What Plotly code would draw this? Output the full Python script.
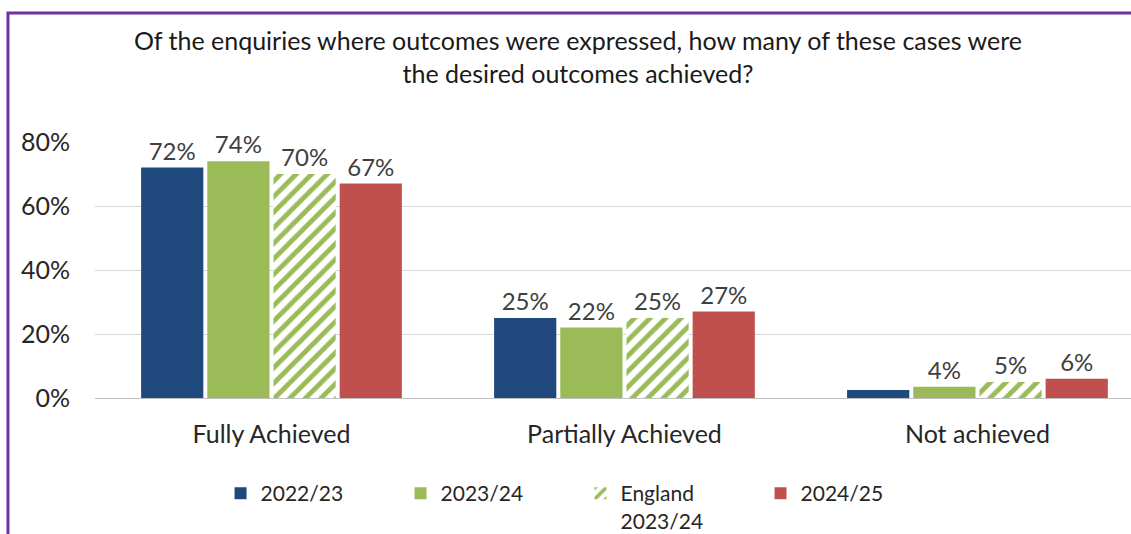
import plotly.graph_objects as go

categories = ["Fully Achieved", "Partially Achieved", "Not achieved"]
series_names = ["2022/23", "2023/24", "England<br>2023/24", "2024/25"]
v_2022_23 = [72, 25, 2.5]
v_2023_24 = [74, 22, 3.5]
v_england = [70, 25, 5]
v_2024_25 = [67, 27, 6]
labels_2022_23 = ["72%", "25%", ""]
labels_2023_24 = ["74%", "22%", "4%"]
labels_england = ["70%", "25%", "5%"]
labels_2024_25 = ["67%", "27%", "6%"]
y_ticks = [0, 20, 40, 60, 80]
y_tick_text = ["0%", "20%", "40%", "60%", "80%"]

BLUE = "#1F497D"
GREEN = "#9BBB59"
RED = "#C0504D"
FONT = "Lato"
TXT = "#262626"

fig = go.Figure()
common = dict(textposition="outside", cliponaxis=False,
              textfont=dict(family=FONT, size=24, color="#404040"))
fig.add_trace(go.Bar(x=categories, y=v_2022_23, name=series_names[0], text=labels_2022_23,
                     marker=dict(color=BLUE, line=dict(width=0)), **common))
fig.add_trace(go.Bar(x=categories, y=v_2023_24, name=series_names[1], text=labels_2023_24,
                     marker=dict(color=GREEN, line=dict(width=0)), **common))
fig.add_trace(go.Bar(x=categories, y=v_england, name=series_names[2], text=labels_england,
                     marker=dict(color="white", line=dict(width=0),
                                 pattern=dict(shape="/", fgcolor=GREEN, bgcolor="white",
                                              size=11, solidity=0.45, fillmode="replace")),
                     **common))
fig.add_trace(go.Bar(x=categories, y=v_2024_25, name=series_names[3], text=labels_2024_25,
                     marker=dict(color=RED, line=dict(width=0)), **common))

fig.update_layout(
    width=1131, height=534,
    margin=dict(l=95, r=0, t=142, b=136),
    paper_bgcolor="white", plot_bgcolor="white",
    barmode="group", bargap=0.25, bargroupgap=0.06,
    font=dict(family=FONT, size=25, color=TXT),
    title=dict(text="Of the enquiries where outcomes were expressed, how many of these cases were<br>the desired outcomes achieved?",
               x=0.511, xref="container", xanchor="center", y=0.906, yref="container", yanchor="middle",
               font=dict(family=FONT, size=25, color="#1a1a1a")),
    xaxis=dict(range=[-0.5, 2.435], showgrid=False, showline=False, ticks="",
               tickfont=dict(family=FONT, size=25, color=TXT), ticklabelstandoff=19),
    yaxis=dict(range=[0, 80], tickvals=y_ticks, ticktext=y_tick_text, showgrid=True,
               gridcolor="#D9D9D9", gridwidth=1, zeroline=True, zerolinecolor="#BFBFBF",
               zerolinewidth=1, showline=False, ticks="",
               tickfont=dict(family=FONT, size=25, color=TXT), ticklabelstandoff=24),
    legend=dict(orientation="h", xref="container", x=0.195, xanchor="left",
                yref="container", y=0.114, yanchor="top",
                font=dict(family=FONT, size=21, color=TXT), entrywidth=135,
                entrywidthmode="pixels", traceorder="normal", valign="top"),
    shapes=[dict(type="rect", xref="paper", yref="paper", x0=-0.084, x1=1.3, y0=-1.0, y1=1.504,
                 line=dict(color="#7030A0", width=3), fillcolor="rgba(0,0,0,0)", layer="above")],
)

fig.write_html("out.html")
